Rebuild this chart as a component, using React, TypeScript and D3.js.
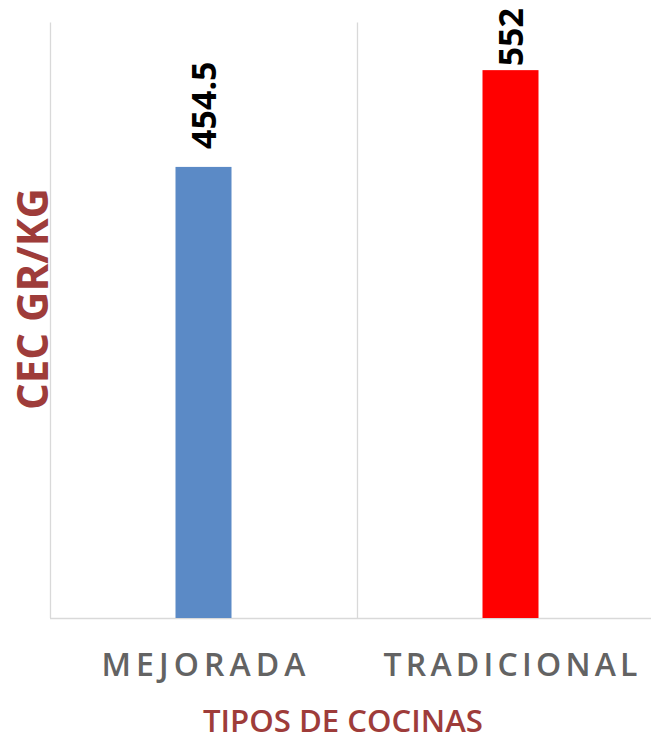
import React, { useEffect, useRef } from "react";
import * as d3 from "d3";

const categories = ["MEJORADA", "TRADICIONAL"];
const values = [454.5, 552];
const valueLabels = ["454.5", "552"];
const barColors = ["#5B8AC6", "#FF0000"];
const yTitle = "CEC GR/KG";
const xTitle = "TIPOS DE COCINAS";

const App = () => {
  const ref = useRef<SVGSVGElement>(null);

  useEffect(() => {
    const svg = d3.select(ref.current);
    svg.selectAll("*").remove();

    const margin = { top: 22.5, left: 50 };
    const bandW = 307;
    const baseY = 618;

    const x = d3.scaleBand()
      .domain(categories)
      .range([margin.left, margin.left + bandW * categories.length])
      .paddingInner(0)
      .paddingOuter(0);

    const y = d3.scaleLinear().domain([0, 600]).range([baseY, margin.top]);

    const data = categories.map((c, i) => ({ c, v: values[i], label: valueLabels[i], color: barColors[i] }));

    // vertical gridlines at category boundaries
    const edges = categories.map(c => x(c)).concat([x.range()[1]]);
    svg.append("g")
      .selectAll("line")
      .data(edges)
      .join("line")
      .attr("x1", d => d + 0.5)
      .attr("x2", d => d + 0.5)
      .attr("y1", margin.top)
      .attr("y2", baseY)
      .attr("stroke", "#d9d9d9")
      .attr("stroke-width", 1.3);

    // bottom axis line
    svg.append("line")
      .attr("x1", x.range()[0])
      .attr("x2", x.range()[1])
      .attr("y1", baseY + 0.5)
      .attr("y2", baseY + 0.5)
      .attr("stroke", "#d9d9d9")
      .attr("stroke-width", 1.5);

    const barW = 56;
    svg.append("g")
      .selectAll("rect")
      .data(data)
      .join("rect")
      .attr("x", d => x(d.c) + x.bandwidth() / 2 - barW / 2)
      .attr("y", d => y(d.v))
      .attr("width", barW)
      .attr("height", d => baseY - y(d.v))
      .attr("fill", d => d.color);

    // value labels, rotated, pushed down if they would leave the chart
    const labels = svg.append("g")
      .selectAll("text")
      .data(data)
      .join("text")
      .attr("font-family", "'Open Sans', sans-serif")
      .attr("font-weight", 700)
      .attr("font-size", 34)
      .attr("fill", "#000")
      .attr("text-anchor", "start")
      .attr("dy", "0.357em")
      .text(d => d.label);

    labels.each(function (d) {
      const el = this as SVGTextElement;
      const len = el.getComputedTextLength();
      const bottom = Math.max(y(d.v) - 18, 8 + len);
      const cx = x(d.c) + x.bandwidth() / 2;
      d3.select(el).attr("transform", `translate(${cx}, ${bottom}) rotate(-90)`);
    });

    // category labels
    svg.append("g")
      .selectAll("text")
      .data(categories)
      .join("text")
      .attr("x", d => x(d) + x.bandwidth() / 2)
      .attr("y", 676)
      .attr("text-anchor", "middle")
      .attr("font-family", "'Open Sans', sans-serif")
      .attr("font-weight", 600)
      .attr("font-size", 32)
      .attr("fill", "#636363")
      .attr("textLength", d => (d.length === 8 ? 204 : 254))
      .attr("lengthAdjust", "spacing")
      .text(d => d);

    // x title
    svg.append("text")
      .attr("x", 343)
      .attr("y", 732)
      .attr("text-anchor", "middle")
      .attr("font-family", "'Open Sans', sans-serif")
      .attr("font-weight", 600)
      .attr("font-size", 31)
      .attr("fill", "#9E3C3A")
      .attr("textLength", 280)
      .attr("lengthAdjust", "spacingAndGlyphs")
      .text(xTitle);

    // y title
    svg.append("text")
      .attr("transform", "translate(48, 299) rotate(-90)")
      .attr("text-anchor", "middle")
      .attr("font-family", "'Open Sans', sans-serif")
      .attr("font-weight", 700)
      .attr("font-size", 43)
      .attr("fill", "#9E3C3A")
      .attr("textLength", 222)
      .attr("lengthAdjust", "spacingAndGlyphs")
      .text(yTitle);
  }, []);

  return (
    <svg
      ref={ref}
      width={651}
      height={740}
      style={{ position: "absolute", left: 0, top: 0, background: "#fff" }}
    />
  );
};

export default App;
